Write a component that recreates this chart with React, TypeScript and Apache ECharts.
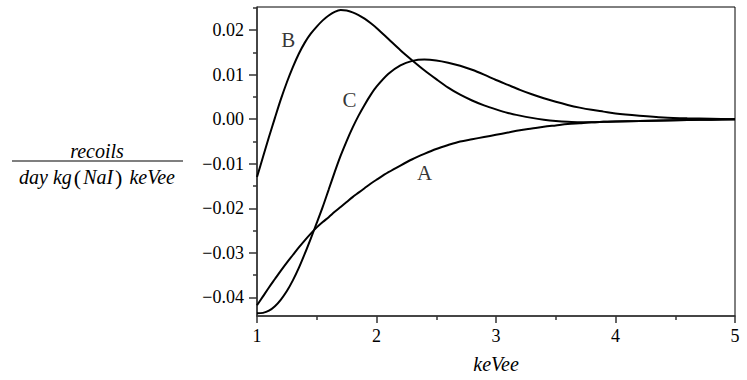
import React, { useEffect, useRef } from "react";
import * as echarts from "echarts";

const keVee = [
  1.0, 1.05, 1.1, 1.15, 1.2, 1.25, 1.3, 1.35, 1.4, 1.45, 1.5, 1.55, 1.6, 1.65, 1.7, 1.75, 1.8, 1.85, 1.9, 1.95, 2.0,
  2.1, 2.2, 2.3, 2.4, 2.5, 2.6, 2.7, 2.8, 2.9, 3.0, 3.1, 3.2, 3.3, 3.4, 3.5, 3.6, 3.7, 3.8, 3.9, 4.0,
  4.2, 4.4, 4.6, 4.8, 5.0,
];

const curveA = [
  -0.0418, -0.0398, -0.0378, -0.0359, -0.034, -0.0322, -0.0305, -0.0288, -0.0272, -0.0257, -0.0243, -0.0231,
  -0.022, -0.0208, -0.0197, -0.0186, -0.0175, -0.0165, -0.0155, -0.0145, -0.0136,
  -0.0119, -0.0104, -0.009, -0.0078, -0.0067, -0.0058, -0.005, -0.0045, -0.004, -0.0035, -0.003, -0.0025,
  -0.0021, -0.0017, -0.0014, -0.0011, -0.0009, -0.0007, -0.0006, -0.0005,
  -0.0004, -0.0003, -0.0002, -0.0001, 0.0,
];

const curveB = [
  -0.013, -0.0085, -0.004, 0.0003, 0.0045, 0.0083, 0.0117, 0.0147, 0.0172, 0.0192, 0.0208, 0.0222, 0.0233,
  0.0241, 0.0245, 0.0244, 0.024, 0.0234, 0.0226, 0.0216, 0.0205,
  0.018, 0.0155, 0.0132, 0.011, 0.009, 0.0071, 0.0055, 0.0042, 0.0031, 0.0022, 0.0014, 0.0008, 0.0003,
  -0.0001, -0.0004, -0.0006, -0.0007, -0.0007, -0.0006, -0.0005,
  -0.0004, -0.0003, -0.0002, -0.0001, 0.0,
];

const curveC = [
  -0.0436, -0.0435, -0.043, -0.042, -0.0405, -0.0386, -0.0362, -0.0334, -0.0302, -0.0268, -0.0233, -0.0197,
  -0.0158, -0.0119, -0.0082, -0.0049, -0.0019, 0.0008, 0.0032, 0.0054, 0.0073,
  0.0102, 0.0121, 0.0131, 0.0134, 0.0132, 0.0127, 0.012, 0.0111, 0.01, 0.0088, 0.0077, 0.0066, 0.0056,
  0.0047, 0.0039, 0.0032, 0.0026, 0.0021, 0.0017, 0.0013,
  0.0008, 0.0004, 0.0002, 0.0001, 0.0,
];

const curveNames = ["A", "B", "C"];
const labelX = [2.402, 1.262, 1.774];
const labelY = [-0.012, 0.0178, 0.0043];

const yMajorTicks = [-0.04, -0.03, -0.02, -0.01, 0.0, 0.01, 0.02];
const yMinorTicks = [-0.035, -0.025, -0.015, -0.005, 0.005, 0.015, 0.025];

const SERIF = "Liberation Serif";

const fmtY = (v: number) => {
  const s = Math.abs(v).toFixed(2);
  return v < -1e-9 ? "\u2212" + s : s;
};

export default function App() {
  const ref = useRef<HTMLDivElement>(null);
  useEffect(() => {
    if (!ref.current) return;
    const chart = echarts.init(ref.current, undefined, { renderer: "svg" });
    const pairs = (ys: number[]) => keVee.map((x, i) => [x, ys[i]]);
    const lineSeries = [curveA, curveB, curveC].map((ys, i) => ({
      type: "line",
      name: curveNames[i],
      data: pairs(ys),
      showSymbol: false,
      symbol: "none",
      smooth: 0.3,
      lineStyle: { color: "#000", width: 2 },
      silent: true,
    }));
    const tickFont = {
      fontFamily: SERIF,
      fontSize: 18,
      color: "#000",
      textStyle: { fontFamily: SERIF, fontSize: 18, color: "#000" },
    };
    chart.setOption({
      animation: false,
      backgroundColor: "#fff",
      textStyle: { fontFamily: SERIF, fontSize: 18, color: "#000" },
      grid: {
        left: 257,
        right: 12,
        top: 7,
        bottom: 64,
        show: true,
        borderColor: "#000",
        borderWidth: 1,
        containLabel: false,
        outerBoundsMode: "none",
      },
      xAxis: {
        type: "value",
        min: 1,
        max: 5,
        interval: 1,
        name: "keVee",
        nameLocation: "middle",
        nameGap: 38,
        nameMoveOverlap: false,
        nameTextStyle: { fontFamily: SERIF, fontStyle: "italic", fontSize: 20, color: "#000" },
        axisLine: { show: true, onZero: false, lineStyle: { color: "#333", width: 1.5 } },
        axisTick: { show: true, inside: false, length: 7, lineStyle: { color: "#333", width: 1.5 } },
        minorTick: { show: true, splitNumber: 2, length: 4, lineStyle: { color: "#333", width: 1.5 } },
        axisLabel: { margin: 11, ...tickFont },
        splitLine: { show: false },
        minorSplitLine: { show: false },
      },
      yAxis: [
        {
          type: "value",
          min: -0.0442,
          max: 0.0252,
          position: "left",
          axisLine: { show: true, onZero: false, lineStyle: { color: "#333", width: 1.5 } },
          axisTick: {
            show: true,
            inside: false,
            length: 8,
            customValues: yMajorTicks,
            lineStyle: { color: "#333", width: 1.5 },
          },
          axisLabel: {
            margin: 13,
            ...tickFont,
            customValues: yMajorTicks,
            formatter: fmtY,
          },
          splitLine: { show: false },
        },
        {
          type: "value",
          min: -0.0442,
          max: 0.0252,
          position: "left",
          offset: 0,
          axisLine: { show: false, onZero: false },
          axisTick: {
            show: true,
            inside: false,
            length: 4,
            customValues: yMinorTicks,
            lineStyle: { color: "#333", width: 1.5 },
          },
          axisLabel: { show: false, customValues: yMinorTicks },
          splitLine: { show: false },
        },
      ],
      series: [
        ...lineSeries,
        {
          type: "scatter",
          data: labelX.map((x, i) => ({ value: [x, labelY[i]], name: curveNames[i] })),
          symbolSize: 0,
          silent: true,
          label: {
            show: true,
            position: "inside",
            formatter: (p: any) => p.name,
            fontFamily: SERIF,
            fontSize: 21,
            color: "#000",
          },
        },
      ],
      graphic: [
        {
          type: "text",
          x: 97,
          y: 151,
          style: {
            text: "recoils",
            font: "italic 20px Liberation Serif",
            fill: "#000",
            align: "center",
            verticalAlign: "middle",
          },
        },
        {
          type: "line",
          shape: { x1: 12, y1: 161, x2: 183, y2: 161 },
          style: { stroke: "#000", lineWidth: 1.2 },
        },
        {
          type: "text",
          x: 97,
          y: 177,
          style: {
            text: "{i|day kg}{n|(}{i|NaI}{n|)}{i| keVee}",
            align: "center",
            verticalAlign: "middle",
            fill: "#000",
            font: "20px Liberation Serif",
            rich: {
              i: { fontFamily: SERIF, fontStyle: "italic", fontSize: 20, fill: "#000" },
              n: { fontFamily: SERIF, fontSize: 22, fill: "#000", padding: [0, 2, 0, 2] },
            },
          },
        },
      ],
    });
    return () => chart.dispose();
  }, []);
  return (
    <div
      ref={ref}
      style={{ position: "absolute", left: 0, top: 0, width: 747, height: 380 }}
    />
  );
}
